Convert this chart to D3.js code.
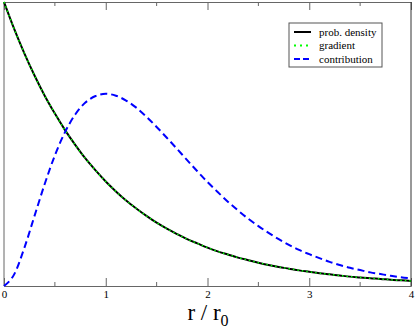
<!DOCTYPE html>
<html>
<head>
<meta charset="utf-8">
<script src="https://cdn.jsdelivr.net/npm/d3@7"></script>
<style>
  body { margin: 0; background: #fff; }
  svg { display: block; }
  svg text { font-family: "Liberation Serif", "DejaVu Serif", serif; }
</style>
</head>
<body>
<div id="chart"></div>
<script>
const width = 415,
    height = 329,
    margin = {left: 4, right: 4, top: 2, bottom: 43};

// values, r / r0 = 0 .. 4 in steps of 0.1
const rValues = [0.0, 0.1, 0.2, 0.3, 0.4, 0.5, 0.6, 0.7, 0.8, 0.9,
    1.0, 1.1, 1.2, 1.3, 1.4, 1.5, 1.6, 1.7, 1.8, 1.9,
    2.0, 2.1, 2.2, 2.3, 2.4, 2.5, 2.6, 2.7, 2.8, 2.9,
    3.0, 3.1, 3.2, 3.3, 3.4, 3.5, 3.6, 3.7, 3.8, 3.9, 4.0];
const probDensity = [1.000, 0.905, 0.819, 0.741, 0.670, 0.607, 0.549, 0.497, 0.449, 0.407,
    0.368, 0.333, 0.301, 0.273, 0.247, 0.223, 0.202, 0.183, 0.165, 0.150,
    0.135, 0.122, 0.111, 0.100, 0.091, 0.082, 0.074, 0.067, 0.061, 0.055,
    0.050, 0.045, 0.041, 0.037, 0.033, 0.030, 0.027, 0.025, 0.022, 0.020, 0.018];
const gradient = [1.000, 0.905, 0.819, 0.741, 0.670, 0.607, 0.549, 0.497, 0.449, 0.407,
    0.368, 0.333, 0.301, 0.273, 0.247, 0.223, 0.202, 0.183, 0.165, 0.150,
    0.135, 0.122, 0.111, 0.100, 0.091, 0.082, 0.074, 0.067, 0.061, 0.055,
    0.050, 0.045, 0.041, 0.037, 0.033, 0.030, 0.027, 0.025, 0.022, 0.020, 0.018];
const contribution = [0.000, 0.041, 0.134, 0.247, 0.359, 0.460, 0.542, 0.604, 0.646, 0.669,
    0.677, 0.670, 0.653, 0.628, 0.596, 0.560, 0.522, 0.483, 0.443, 0.404,
    0.366, 0.331, 0.297, 0.266, 0.237, 0.211, 0.187, 0.165, 0.145, 0.127,
    0.112, 0.098, 0.085, 0.074, 0.064, 0.056, 0.048, 0.042, 0.036, 0.031, 0.027];

const xTicks = [0, 1, 2, 3, 4];
const xMinorTicks = [0.5, 1.5, 2.5, 3.5];
const seriesNames = ['prob. density', 'gradient', 'contribution'];

const x = d3.scaleLinear().domain([0, 4]).range([margin.left, width - margin.right]);
const y = d3.scaleLinear().domain([0, 1]).range([height - margin.bottom, margin.top]);

const svg = d3.select('#chart').append('svg')
    .attr('width', width)
    .attr('height', height);

const frameColor = '#666';

// ticks on bottom and top, pointing inward
const bottomAxis = svg.append('g')
    .attr('transform', 'translate(0,' + y(0) + ')')
    .call(d3.axisBottom(x).tickValues(xTicks).tickSize(-8).tickFormat(d3.format('d')).tickPadding(4));
bottomAxis.append('g').selectAll('line')
    .data(xMinorTicks).enter().append('line')
    .attr('x1', d => x(d)).attr('x2', d => x(d))
    .attr('y1', 0).attr('y2', -4)
    .attr('stroke', frameColor);

const topAxis = svg.append('g')
    .attr('transform', 'translate(0,' + y(1) + ')')
    .call(d3.axisTop(x).tickValues(xTicks).tickSize(-8).tickFormat(''));
topAxis.append('g').selectAll('line')
    .data(xMinorTicks).enter().append('line')
    .attr('x1', d => x(d)).attr('x2', d => x(d))
    .attr('y1', 0).attr('y2', 4)
    .attr('stroke', frameColor);

svg.selectAll('.domain').attr('stroke', frameColor);
svg.selectAll('.tick line').attr('stroke', frameColor);
bottomAxis.selectAll('.tick text')
    .style('font-family', '"Liberation Serif", serif')
    .attr('font-size', 11)
    .attr('fill', '#000');

// side borders
svg.append('line')
    .attr('x1', x(0)).attr('x2', x(0))
    .attr('y1', y(0)).attr('y2', y(1))
    .attr('stroke', frameColor);
svg.append('line')
    .attr('x1', x(4)).attr('x2', x(4))
    .attr('y1', y(0)).attr('y2', y(1))
    .attr('stroke', '#333');

const line = d3.line()
    .x((d, i) => x(rValues[i]))
    .y(d => y(d))
    .curve(d3.curveMonotoneX);

svg.append('path')
    .attr('d', line(probDensity))
    .attr('fill', 'none')
    .attr('stroke', '#000')
    .attr('stroke-width', 2);

svg.append('path')
    .attr('d', line(gradient))
    .attr('fill', 'none')
    .attr('stroke', '#00ff00')
    .attr('stroke-width', 1.5)
    .attr('stroke-dasharray', '1.5,3');

svg.append('path')
    .attr('d', line(contribution))
    .attr('fill', 'none')
    .attr('stroke', '#0000ff')
    .attr('stroke-width', 2)
    .attr('stroke-dasharray', '7,4');

// legend
const legend = svg.append('g').attr('transform', 'translate(289,23)');
legend.append('rect')
    .attr('width', 93).attr('height', 44)
    .attr('fill', '#fff')
    .attr('stroke', '#555');

const legendStyles = [
    {color: '#000', dash: null, w: 2},
    {color: '#00ff00', dash: '2,4', w: 2},
    {color: '#0000ff', dash: '6,3', w: 2}
];

seriesNames.forEach((name, i) => {
    const yy = 9 + i * 13.5;
    legend.append('line')
        .attr('x1', 5).attr('x2', 22)
        .attr('y1', yy).attr('y2', yy)
        .attr('stroke', legendStyles[i].color)
        .attr('stroke-width', legendStyles[i].w)
        .attr('stroke-dasharray', legendStyles[i].dash);
    legend.append('text')
        .attr('x', 30).attr('y', yy + 3.5)
        .attr('font-size', 11)
        .text(name);
});

// x axis label
const xLabel = svg.append('text')
    .attr('x', 208).attr('y', 320)
    .attr('text-anchor', 'middle')
    .attr('font-size', 23);
xLabel.append('tspan').text('r / r');
xLabel.append('tspan').attr('dy', 6).attr('font-size', 16).text('0');
</script>
</body>
</html>
